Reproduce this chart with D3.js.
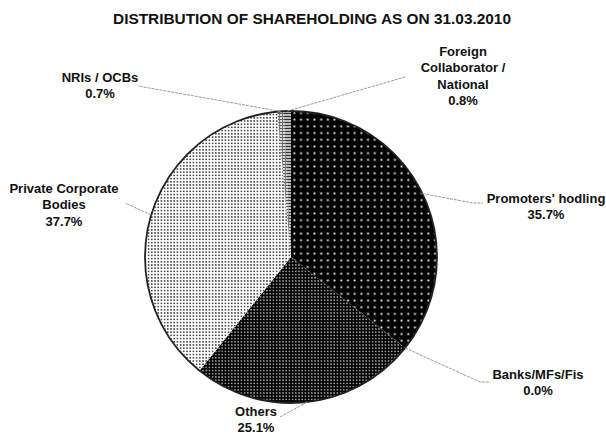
<!DOCTYPE html>
<html><head><meta charset="utf-8">
<script src="https://cdn.jsdelivr.net/npm/d3@7"></script>
<style>body{margin:0;background:#fff}svg{display:block}</style>
</head><body>
<script>
// ---- data ----
const title = "DISTRIBUTION OF SHAREHOLDING AS ON 31.03.2010";
const categories = ["Promoters' hodling", "Banks/MFs/Fis", "Others", "Private Corporate Bodies", "NRIs / OCBs", "Foreign Collaborator / National"];
const values = [35.7, 0.0, 25.1, 37.7, 0.7, 0.8];
const labelLines = [
  ["Promoters' hodling"],
  ["Banks/MFs/Fis"],
  ["Others"],
  ["Private Corporate", "Bodies"],
  ["NRIs / OCBs"],
  ["Foreign", "Collaborator /", "National"]
];
const patternIds = ["pProm", "pBank", "pOth", "pPriv", "pNri", "pFor"];

// ---- layout ----
const W = 606, H = 435, cx = 291, cy = 257, R = 146;
const labelLayout = [
  {tx: 546, ty: 198, elbow: [473, 203], end: [483, 203]},
  {tx: 538, ty: 374, elbow: [480, 382], end: [490, 382]},
  {tx: 256, ty: 411, end: [280, 417]},
  {tx: 64, ty: 188, end: [125, 203]},
  {tx: 100, ty: 77, end: [138, 86]},
  {tx: 463, ty: 51, end: [405, 77]}
];
const lineH = 16.6;

const svg = d3.select("body").append("svg").attr("width", W).attr("height", H);
const defs = svg.append("defs");

function dotPattern(id, size, bg, dot, ds) {
  const p = defs.append("pattern").attr("id", id).attr("patternUnits", "userSpaceOnUse")
    .attr("width", size).attr("height", size);
  p.append("rect").attr("width", size).attr("height", size).attr("fill", bg);
  p.append("rect").attr("x", (size - ds) / 2).attr("y", (size - ds) / 2)
    .attr("width", ds).attr("height", ds).attr("fill", dot);
}
dotPattern("pProm", 6.7, "#000", "#fff", 1.8);
dotPattern("pBank", 3, "#000", "#fff", 1.2);
dotPattern("pOth", 3.2, "#000", "#fff", 1.2);
dotPattern("pPriv", 3.2, "#fff", "#333", 1.5);
(function(){
  const p = defs.append("pattern").attr("id", "pNri").attr("patternUnits", "userSpaceOnUse").attr("width", 3).attr("height", 3);
  p.append("rect").attr("width", 3).attr("height", 3).attr("fill", "#ddd");
  p.append("rect").attr("width", 3).attr("height", 1).attr("fill", "#555");
  p.append("rect").attr("width", 1).attr("height", 3).attr("fill", "#777");
  const q = defs.append("pattern").attr("id", "pFor").attr("patternUnits", "userSpaceOnUse").attr("width", 3).attr("height", 3);
  q.append("rect").attr("width", 3).attr("height", 3).attr("fill", "#bbb");
  q.append("rect").attr("width", 3).attr("height", 1).attr("fill", "#333");
})();

svg.append("text").attr("x", 312).attr("y", 24).attr("text-anchor", "middle")
  .attr("font-family", "Liberation Sans, Arial, sans-serif").attr("font-weight", "bold")
  .attr("font-size", 15.4).attr("fill", "#111").text(title);

const data = categories.map((c, i) => ({cat: c, value: values[i], i}));
const pie = d3.pie().sort(null).value(d => d.value).startAngle(0).endAngle(2 * Math.PI);
const arcs = pie(data);
const arc = d3.arc().innerRadius(0).outerRadius(R);

const g = svg.append("g").attr("transform", `translate(${cx},${cy})`);
g.selectAll("path.slice").data(arcs).enter().append("path").attr("class", "slice")
  .attr("d", arc).attr("fill", d => `url(#${patternIds[d.data.i]})`).attr("stroke", "none");
g.append("circle").attr("r", R).attr("fill", "none").attr("stroke", "#222").attr("stroke-width", 1.8);

// leader lines
arcs.forEach(d => {
  const L = labelLayout[d.data.i];
  const mid = (d.startAngle + d.endAngle) / 2;
  const p0 = [cx + R * Math.sin(mid), cy - R * Math.cos(mid)];
  const pts = [p0];
  if (L.elbow) pts.push(L.elbow);
  pts.push(L.end);
  svg.append("path").attr("d", d3.line()(pts)).attr("fill", "none")
    .attr("stroke", "#999").attr("stroke-width", 1).attr("stroke-dasharray", "3,1");
});

// labels
arcs.forEach(d => {
  const L = labelLayout[d.data.i];
  const lines = labelLines[d.data.i].concat([d.data.value.toFixed(1) + "%"]);
  const t = svg.append("text").attr("text-anchor", "middle")
    .attr("font-family", "Liberation Sans, Arial, sans-serif").attr("font-weight", "bold")
    .attr("font-size", 13).attr("fill", "#111");
  lines.forEach((s, k) => {
    t.append("tspan").attr("x", L.tx).attr("y", L.ty + k * lineH).attr("dy", "0.35em").text(s);
  });
});
</script>
</body></html>
